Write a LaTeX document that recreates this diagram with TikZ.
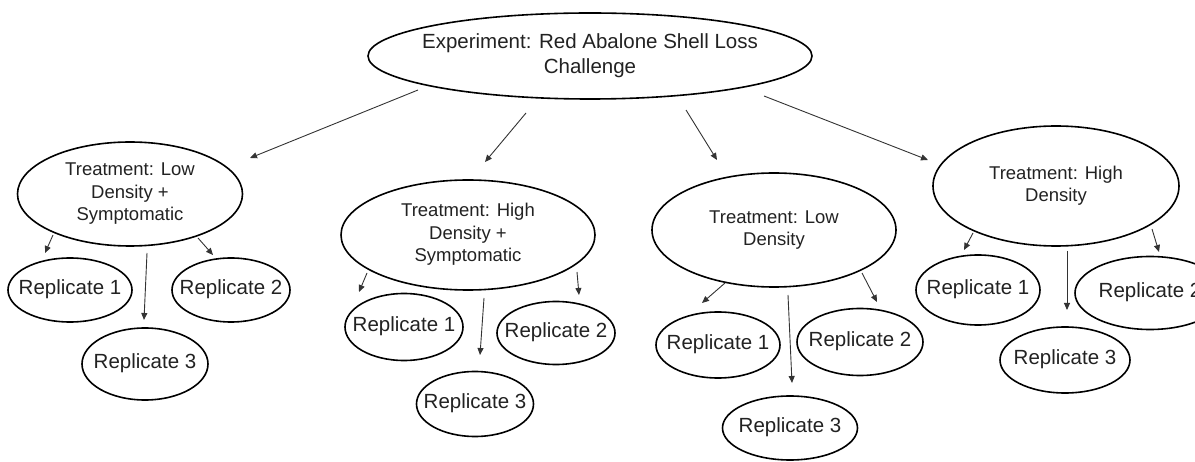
\documentclass[tikz,border=0pt]{standalone}
\usepackage{fontspec}
\setmainfont{Liberation Sans}
\usetikzlibrary{shapes.geometric,arrows.meta}
\definecolor{ink}{HTML}{222222}
\definecolor{arrowc}{HTML}{333333}
\newcommand{\zlines}[1]{\makebox[0pt]{\begin{tabular}{@{}c@{}}#1\end{tabular}}}
\tikzset{
  oval/.style={draw=black, line width=1.6pt, ellipse, inner sep=0pt, text=ink},
  topoval/.style={oval, font=\fontsize{20.5}{25}\selectfont},
  treat/.style={oval, font=\fontsize{18.5}{22.5}\selectfont},
  rep/.style={oval, font=\fontsize{20.5}{24}\selectfont},
  arr/.style={draw=arrowc, line width=0.9pt, -{Triangle[length=7pt,width=6pt]}}
}
\begin{document}
\begin{tikzpicture}[x=1pt,y=-1pt]
\useasboundingbox (0,0) rectangle (1195,462);
\clip (0,0) rectangle (1195,462);
% top
\node[topoval, minimum width=444pt, minimum height=86pt] (top) at (590,56) {\zlines{Experiment: Red Abalone Shell Loss\\Challenge}};
% treatments
\node[treat, minimum width=225pt, minimum height=104pt] (t1) at (130,194) {\zlines{Treatment: Low\\Density +\\Symptomatic}};
\node[treat, minimum width=254pt, minimum height=110pt] (t2) at (468,235) {\zlines{Treatment: High\\Density +\\Symptomatic}};
\node[treat, minimum width=244pt, minimum height=114pt] (t3) at (774,230) {\zlines{Treatment: Low\\Density}};
\node[treat, minimum width=246pt, minimum height=120pt] (t4) at (1056,186) {\zlines{Treatment: High\\Density}};
% replicates
\node[rep, minimum width=124pt, minimum height=64pt] (t1r1) at (70,290) {\zlines{Replicate 1}};
\node[rep, minimum width=118pt, minimum height=64pt] (t1r2) at (231,290) {\zlines{Replicate 2}};
\node[rep, minimum width=126pt, minimum height=72pt] (t1r3) at (145,364) {\zlines{Replicate 3}};
\node[rep, minimum width=118pt, minimum height=67pt] (t2r1) at (404,327) {\zlines{Replicate 1}};
\node[rep, minimum width=118pt, minimum height=63pt] (t2r2) at (556,333) {\zlines{Replicate 2}};
\node[rep, minimum width=117pt, minimum height=65pt] (t2r3) at (475,404) {\zlines{Replicate 3}};
\node[rep, minimum width=124pt, minimum height=66pt] (t3r1) at (718,345) {\zlines{Replicate 1}};
\node[rep, minimum width=126pt, minimum height=67pt] (t3r2) at (860,342) {\zlines{Replicate 2}};
\node[rep, minimum width=135pt, minimum height=64pt] (t3r3) at (790,428) {\zlines{Replicate 3}};
\node[rep, minimum width=124pt, minimum height=70pt] (t4r1) at (978,290) {\zlines{Replicate 1}};
\node[rep, minimum width=150pt, minimum height=73pt] (t4r2) at (1150,293) {\zlines{Replicate 2}};
\node[rep, minimum width=130pt, minimum height=66pt] (t4r3) at (1065,360) {\zlines{Replicate 3}};
% arrow end points (arrows float between the ovals)
\coordinate (a1s) at (418,90);   \coordinate (a1e) at (250,158);
\coordinate (a2s) at (526,113);  \coordinate (a2e) at (485,162);
\coordinate (a3s) at (686,110);  \coordinate (a3e) at (717,160);
\coordinate (a4s) at (764,96);   \coordinate (a4e) at (928,160);
\coordinate (b11s) at (53,235);  \coordinate (b11e) at (45,253);
\coordinate (b13s) at (147,253); \coordinate (b13e) at (144,320);
\coordinate (b12s) at (198,238); \coordinate (b12e) at (213,255);
\coordinate (b21s) at (367,273); \coordinate (b21e) at (359,292);
\coordinate (b23s) at (484,298); \coordinate (b23e) at (480,355);
\coordinate (b22s) at (577,272); \coordinate (b22e) at (579,295);
\coordinate (b31s) at (725,283); \coordinate (b31e) at (702,303);
\coordinate (b33s) at (788,295); \coordinate (b33e) at (792,383);
\coordinate (b32s) at (862,273); \coordinate (b32e) at (877,302);
\coordinate (b41s) at (973,233); \coordinate (b41e) at (964,250);
\coordinate (b43s) at (1067,251);\coordinate (b43e) at (1067,310);
\coordinate (b42s) at (1152,229);\coordinate (b42e) at (1159,252);
\draw[arr] (a1s) -- (a1e);
\draw[arr] (a2s) -- (a2e);
\draw[arr] (a3s) -- (a3e);
\draw[arr] (a4s) -- (a4e);
\draw[arr] (b11s) -- (b11e);
\draw[arr] (b13s) -- (b13e);
\draw[arr] (b12s) -- (b12e);
\draw[arr] (b21s) -- (b21e);
\draw[arr] (b23s) -- (b23e);
\draw[arr] (b22s) -- (b22e);
\draw[arr] (b31s) -- (b31e);
\draw[arr] (b33s) -- (b33e);
\draw[arr] (b32s) -- (b32e);
\draw[arr] (b41s) -- (b41e);
\draw[arr] (b43s) -- (b43e);
\draw[arr] (b42s) -- (b42e);
\end{tikzpicture}
\end{document}
